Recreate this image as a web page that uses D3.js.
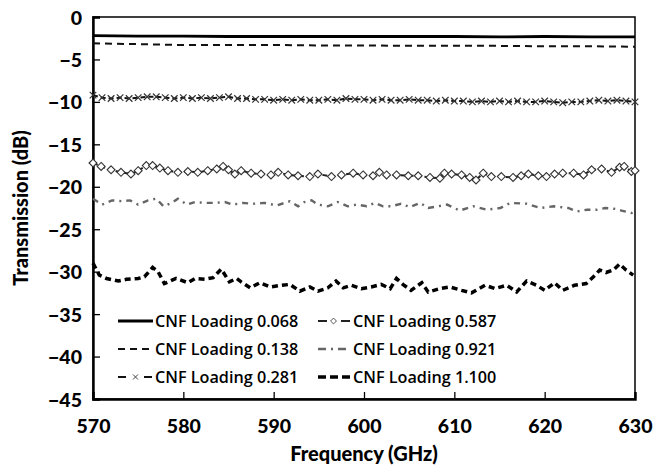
<!DOCTYPE html>
<html>
<head>
<meta charset="utf-8">
<script src="https://cdn.jsdelivr.net/npm/d3@7"></script>
<style>
  body { margin: 0; background: #fff; }
  svg { display: block; }
</style>
</head>
<body>
<div id="chart"></div>
<script>
// axis ticks
const xTicks = [570, 580, 590, 600, 610, 620, 630];
const yTicks = [0, -5, -10, -15, -20, -25, -30, -35, -40, -45];

// CNF Loading 0.068
const f068 = [570, 575, 580, 585, 590, 595, 600, 605, 610, 615, 620, 625, 630];
const v068 = [-2.2, -2.25, -2.25, -2.3, -2.3, -2.3, -2.3, -2.3, -2.3, -2.35, -2.3, -2.35, -2.35];

// CNF Loading 0.138
const f138 = [570, 575, 580, 585, 590, 595, 600, 605, 610, 615, 620, 625, 630];
const v138 = [-3.1, -3.2, -3.3, -3.3, -3.3, -3.35, -3.35, -3.4, -3.4, -3.4, -3.45, -3.45, -3.5];

// CNF Loading 0.281
const f281 = d3.range(570, 631, 1);
const v281 = [-9.2, -9.5, -9.6, -9.5, -9.6, -9.5, -9.4, -9.4, -9.5, -9.6,
              -9.5, -9.6, -9.5, -9.6, -9.5, -9.4, -9.6, -9.6, -9.7, -9.7,
              -9.8, -9.7, -9.8, -9.7, -9.8, -9.8, -9.7, -9.8, -9.6, -9.7,
              -9.7, -9.8, -9.7, -9.8, -9.8, -9.7, -9.8, -9.8, -9.9, -9.8,
              -9.9, -9.9, -10.0, -9.9, -10.0, -9.9, -10.0, -9.9, -10.0, -10.0,
              -9.9, -10.0, -10.1, -10.0, -10.0, -9.9, -9.8, -9.9, -9.8, -9.9, -10.0];

// CNF Loading 0.587
const f587 = [570, 570.9, 572.0, 573.1, 574.2, 575.0, 575.9, 576.6, 577.4, 578.3,
              579.4, 580.5, 581.6, 582.7, 583.7, 584.4, 585.0, 585.7, 586.4, 587.5,
              588.6, 589.7, 590.5, 591.6, 592.7, 594.0, 594.9, 596.4, 597.5, 598.8,
              599.9, 601.0, 601.7, 602.5, 603.6, 604.9, 606.0, 607.3, 608.4, 608.9,
              609.7, 610.8, 611.7, 612.4, 613.2, 614.1, 615.2, 616.5, 617.4, 618.2,
              619.3, 620.2, 621.1, 622.0, 623.2, 624.3, 625.2, 626.3, 627.4, 628.3,
              628.8, 629.6, 630];
const v587 = [-17.2, -17.6, -18.0, -18.3, -18.5, -18.1, -17.5, -17.5, -17.8, -18.1,
              -18.3, -18.2, -18.3, -18.1, -17.9, -17.6, -18.0, -18.5, -18.1, -18.4,
              -18.5, -18.6, -18.3, -18.6, -18.7, -18.8, -18.5, -18.8, -18.6, -18.4,
              -18.6, -18.7, -18.3, -18.6, -18.6, -18.7, -18.7, -18.9, -19.0, -18.4,
              -18.5, -18.6, -18.9, -19.2, -18.4, -18.8, -18.8, -18.9, -18.7, -18.5,
              -18.7, -18.8, -18.5, -18.4, -18.4, -18.6, -18.0, -17.9, -18.3, -17.7,
              -17.6, -18.2, -18.1];

// CNF Loading 0.921
const f921 = [570, 571, 572.1, 573.2, 574.1, 575.0, 576.1, 577.0, 577.8, 578.7,
              579.4, 580.4, 581.3, 582.4, 583.5, 584.6, 585.5, 586.6, 587.7, 589.0,
              590.3, 591.8, 592.7, 593.4, 594.2, 594.9, 596.0, 597.1, 598.2, 599.2,
              600.3, 601.2, 602.1, 603.0, 604.1, 605.1, 606.2, 607.1, 608.2, 609.2,
              610.6, 612.1, 613.6, 615.1, 616.2, 618.0, 619.5, 621.0, 622.6, 623.6,
              624.7, 625.8, 626.7, 627.8, 628.5, 629.6, 630];
const v921 = [-21.4, -22.1, -21.6, -21.7, -21.6, -22.1, -21.6, -21.4, -22.3, -21.9,
              -21.4, -22.1, -21.8, -21.9, -21.9, -21.8, -22.1, -21.9, -22.0, -21.9,
              -22.2, -21.7, -22.3, -21.8, -21.6, -22.1, -22.3, -21.8, -22.3, -22.1,
              -22.3, -21.9, -22.3, -22.3, -22.0, -22.4, -21.9, -22.5, -22.3, -22.1,
              -22.8, -22.3, -22.7, -22.5, -21.9, -22.0, -22.5, -22.3, -22.5, -22.9,
              -22.7, -22.7, -22.5, -22.6, -22.8, -23.1, -22.9];

// CNF Loading 1.100
const f1100 = [570, 570.7, 571.5, 572.8, 573.7, 575.0, 575.7, 576.6, 577.2, 577.9,
               579.2, 580.5, 581.3, 582.4, 583.3, 584.2, 585.1, 585.9, 586.4, 587.4,
               588.5, 589.6, 590.9, 591.8, 592.9, 594.0, 594.9, 596.0, 596.9, 597.7,
               598.6, 599.7, 600.8, 601.9, 602.9, 603.6, 604.3, 605.2, 606.4, 607.1,
               608.4, 609.5, 610.8, 611.9, 613.4, 614.5, 615.8, 616.9, 618.0, 619.1,
               620.0, 621.1, 622.0, 623.3, 624.6, 625.4, 626.1, 626.8, 627.6, 628.3,
               629.0, 629.8];
const v1100 = [-29.0, -30.4, -30.8, -31.1, -30.9, -30.8, -30.6, -29.5, -30.0, -31.4,
               -30.8, -31.3, -30.8, -30.9, -30.7, -29.7, -31.2, -30.8, -31.2, -31.9,
               -31.3, -31.8, -31.6, -31.5, -32.3, -31.8, -32.3, -31.9, -31.1, -31.9,
               -31.6, -32.0, -31.8, -31.5, -32.0, -30.8, -31.5, -32.2, -31.3, -32.4,
               -32.0, -31.8, -32.2, -32.5, -31.6, -32.0, -31.6, -32.4, -31.1, -31.6,
               -32.2, -31.3, -32.2, -31.6, -31.4, -30.6, -29.8, -30.1, -29.8, -29.1,
               -29.8, -30.4];

const seriesNames = ["CNF Loading 0.068", "CNF Loading 0.138", "CNF Loading 0.281",
                     "CNF Loading 0.587", "CNF Loading 0.921", "CNF Loading 1.100"];

const width = 653;
const height = 466;
const margin = { top: 17, right: 18, bottom: 67, left: 93 };

const xScale = d3.scaleLinear().domain([570, 630]).range([margin.left, width - margin.right]);
const yScale = d3.scaleLinear().domain([-45, 0]).range([height - margin.bottom, margin.top]);

const svg = d3.select("#chart")
    .append("svg")
    .attr("width", width)
    .attr("height", height);

const font = "Lato, 'DejaVu Sans', sans-serif";

// plot frame (top & right)
svg.append("rect")
    .attr("x", xScale(570))
    .attr("y", yScale(0))
    .attr("width", xScale(630) - xScale(570))
    .attr("height", yScale(-45) - yScale(0))
    .attr("fill", "none")
    .attr("stroke", "#000")
    .attr("stroke-width", 1.5);

// axes, ticks pointing inward
const xAxis = d3.axisBottom(xScale).tickValues(xTicks).tickSize(-7).tickPadding(20).tickFormat(d3.format("d"));
const yAxis = d3.axisLeft(yScale).tickValues(yTicks).tickSize(-7).tickPadding(11).tickFormat(d3.format("d"));

const xAxisGroup = svg.append("g")
    .attr("transform", `translate(0, ${yScale(-45)})`)
    .call(xAxis);

const yAxisGroup = svg.append("g")
    .attr("transform", `translate(${xScale(570)}, 0)`)
    .call(yAxis);

[xAxisGroup, yAxisGroup].forEach(g => {
    g.select(".domain").attr("stroke", "#000").attr("stroke-width", 2.4);
    g.selectAll(".tick line").attr("stroke", "#000").attr("stroke-width", 1.3);
    g.selectAll(".tick text")
        .attr("fill", "#000")
        .style("font-family", font)
        .style("font-weight", "900")
        .style("font-size", "19.5px");
});
yAxisGroup.selectAll(".tick text").attr("dy", "0.36em");

// axis titles
svg.append("text")
    .attr("x", (xScale(570) + xScale(630)) / 2)
    .attr("y", 461)
    .attr("text-anchor", "middle")
    .style("font-family", font)
    .style("font-weight", "900")
    .style("font-size", "20px")
    .text("Frequency (GHz)");

svg.append("text")
    .attr("transform", `translate(28, ${(yScale(0) + yScale(-45)) / 2}) rotate(-90)`)
    .attr("text-anchor", "middle")
    .style("font-family", font)
    .style("font-weight", "900")
    .style("font-size", "20px")
    .text("Transmission (dB)");

// series styles (legendDash: pattern of the short legend sample)
const styles = [
    { f: f068, v: v068, stroke: "#000", width: 2.8, dash: null, legendDash: null, marker: null },
    { f: f138, v: v138, stroke: "#111", width: 2, dash: "7,5", legendDash: "7,5", marker: null },
    { f: f281, v: v281, stroke: "#111", width: 2, dash: "5,3", legendDash: "8,18", marker: "x" },
    { f: f587, v: v587, stroke: "#222", width: 2, dash: "5,3", legendDash: "9,14", marker: "diamond" },
    { f: f921, v: v921, stroke: "#666", width: 2.4, dash: "6,5,2,5", legendDash: "8,5,2,5", marker: null },
    { f: f1100, v: v1100, stroke: "#000", width: 3.5, dash: "6,4", legendDash: "8,4", marker: null },
];

const line = d3.line()
    .x(d => xScale(d.x))
    .y(d => yScale(d.y));

const diamond = d3.symbol().type(d3.symbolDiamond2).size(40);
const cross = d3.symbol().type(d3.symbolX).size(30);

const plot = svg.append("g");

styles.forEach(s => {
    const pts = s.f.map((x, i) => ({ x: x, y: s.v[i] }));
    plot.append("path")
        .datum(pts)
        .attr("d", line)
        .attr("fill", "none")
        .attr("stroke", s.stroke)
        .attr("stroke-width", s.width)
        .attr("stroke-dasharray", s.dash);

    if (s.marker === "diamond") {
        plot.selectAll(null)
            .data(pts)
            .enter()
            .append("path")
            .attr("transform", d => `translate(${xScale(d.x)}, ${yScale(d.y)})`)
            .attr("d", diamond)
            .attr("fill", "#fff")
            .attr("stroke", "#333")
            .attr("stroke-width", 1.1);
    } else if (s.marker === "x") {
        plot.selectAll(null)
            .data(pts)
            .enter()
            .append("path")
            .attr("transform", d => `translate(${xScale(d.x)}, ${yScale(d.y)})`)
            .attr("d", cross)
            .attr("fill", "none")
            .attr("stroke", "#333")
            .attr("stroke-width", 1.2);
    }
});

// legend
const legendCols = [{ x0: 118, x1: 153, tx: 155 }, { x0: 318, x1: 350, tx: 353 }];
const legendRows = [321, 349, 377];

styles.forEach((s, i) => {
    const col = legendCols[Math.floor(i / 3)];
    const y = legendRows[i % 3];
    const g = svg.append("g");
    g.append("line")
        .attr("x1", col.x0).attr("x2", col.x1)
        .attr("y1", y).attr("y2", y)
        .attr("stroke", s.stroke)
        .attr("stroke-width", s.width)
        .attr("stroke-dasharray", s.legendDash);
    const mx = s.marker === "x" ? col.x0 + 17.5 : col.x0 + 15.5;
    if (s.marker === "diamond") {
        g.append("path")
            .attr("transform", `translate(${mx}, ${y})`)
            .attr("d", d3.symbol().type(d3.symbolDiamond2).size(22))
            .attr("fill", "#fff")
            .attr("stroke", "#555");
    } else if (s.marker === "x") {
        g.append("path")
            .attr("transform", `translate(${mx}, ${y})`)
            .attr("d", d3.symbol().type(d3.symbolX).size(18))
            .attr("fill", "none")
            .attr("stroke", "#444");
    }
    g.append("text")
        .attr("x", col.tx)
        .attr("y", y)
        .attr("dy", "0.35em")
        .style("font-family", "'Open Sans', Lato, sans-serif")
        .style("font-weight", "600")
        .style("font-size", "16.2px")
        .style("fill", "#000")
        .text(seriesNames[i]);
});
</script>
</body>
</html>
